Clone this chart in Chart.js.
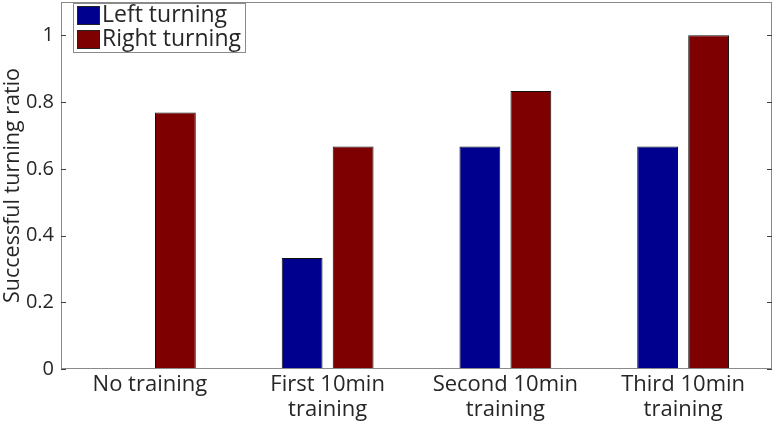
<!DOCTYPE html>
<html>
<head>
<meta charset="utf-8">
<script src="https://cdn.jsdelivr.net/npm/chart.js@4/dist/chart.umd.min.js"></script>
<style>
  html, body { margin: 0; padding: 0; background: #fff; }
  #wrap { width: 777px; height: 428px; }
</style>
</head>
<body>
<div id="wrap"><canvas id="turnChart"></canvas></div>
<script>
const categories = [['No training'], ['First 10min', 'training'], ['Second 10min', 'training'], ['Third 10min', 'training']];
const leftTurning = [0, 0.333, 0.667, 0.667];
const rightTurning = [0.769, 0.667, 0.833, 1.0];
const seriesNames = ['Left turning', 'Right turning'];
const yTicks = [0, 0.2, 0.4, 0.6, 0.8, 1];

const FONT = '"Open Sans", "Noto Sans", sans-serif';
const TEXT = '#262626';

// MATLAB-like box, inward ticks and legend inside the axes
const boxPlugin = {
  id: 'boxPlugin',
  afterDraw(chart) {
    const { ctx, chartArea: a, scales } = chart;
    ctx.save();
    ctx.strokeStyle = '#8a8a8a';
    ctx.lineWidth = 1;
    ctx.strokeRect(a.left + 0.5, a.top + 0.5, a.right - a.left - 1, a.bottom - a.top - 1);
    ctx.strokeStyle = '#404040';
    yTicks.forEach(v => {
      const y = Math.round(scales.y.getPixelForValue(v)) + 0.5;
      ctx.beginPath();
      ctx.moveTo(a.left, y); ctx.lineTo(a.left + 5, y);
      ctx.moveTo(a.right, y); ctx.lineTo(a.right - 5, y);
      ctx.stroke();
    });

    // legend
    const lx = a.left + 12, ly = a.top + 1;
    ctx.fillStyle = '#fff';
    ctx.fillRect(lx, ly, 172, 49);
    ctx.strokeStyle = '#8a8a8a';
    ctx.strokeRect(lx + 0.5, ly + 0.5, 172, 49);
    ctx.font = '23px ' + FONT;
    ctx.textBaseline = 'middle';
    chart.data.datasets.forEach((ds, i) => {
      const ry = ly + 3 + i * 24;
      ctx.fillStyle = ds.backgroundColor;
      ctx.fillRect(lx + 4, ry, 23, 19);
      ctx.strokeStyle = '#222';
      ctx.strokeRect(lx + 4.5, ry + 0.5, 22, 18);
      ctx.fillStyle = TEXT;
      ctx.fillText(ds.label, lx + 29, ry + 9);
    });
    ctx.restore();
  }
};

new Chart(document.getElementById('turnChart'), {
  type: 'bar',
  data: {
    labels: categories,
    datasets: [
      { label: seriesNames[0], data: leftTurning, backgroundColor: '#00008f', borderColor: '#111', borderWidth: 1 },
      { label: seriesNames[1], data: rightTurning, backgroundColor: '#7f0000', borderColor: '#111', borderWidth: 1 }
    ]
  },
  options: {
    responsive: true,
    maintainAspectRatio: false,
    animation: false,
    layout: { padding: { top: 2, right: 5, left: 0, bottom: 0 } },
    plugins: {
      legend: { display: false },
      tooltip: { enabled: false }
    },
    datasets: {
      bar: { categoryPercentage: 0.574, barPercentage: 0.8 }
    },
    scales: {
      x: {
        grid: { display: false, drawTicks: false },
        border: { display: false },
        ticks: {
          color: TEXT,
          font: { family: FONT, size: 22, lineHeight: 1.15 },
          padding: 3,
          maxRotation: 0,
          autoSkip: false
        },
        afterFit(scale) {
          scale.height = 59;
          scale.paddingLeft = 0;
          scale.paddingRight = 0;
        }
      },
      y: {
        min: 0,
        max: 1.1,
        afterBuildTicks(scale) { scale.ticks = yTicks.map(v => ({ value: v })); },
        grid: { display: false, drawTicks: false },
        border: { display: false },
        ticks: {
          color: TEXT,
          font: { family: FONT, size: 20 },
          padding: 7,
          callback: v => String(v)
        },
        title: {
          display: true,
          text: 'Successful turning ratio',
          color: TEXT,
          font: { family: FONT, size: 21.5 },
          padding: { top: 0, bottom: 2 }
        },
        afterFit(scale) {
          scale.width = 61;
          scale.paddingTop = 0;
          scale.paddingBottom = 0;
        }
      }
    }
  },
  plugins: [boxPlugin]
});
</script>
</body>
</html>
